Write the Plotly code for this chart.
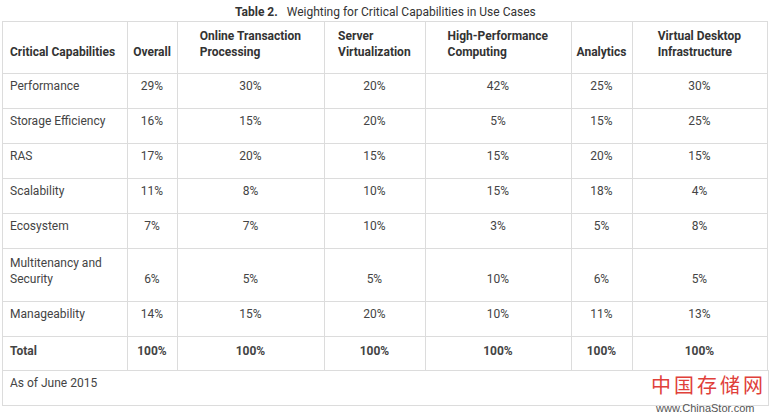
import plotly.graph_objects as go

# table data
capabilities = ["Performance", "Storage Efficiency", "RAS", "Scalability", "Ecosystem",
                "Multitenancy and<br>Security", "Manageability", "<b>Total</b>"]
use_cases = ["Overall", "Online Transaction<br>Processing", "Server<br>Virtualization",
             "High-Performance<br>Computing", "Analytics", "Virtual Desktop<br>Infrastructure"]
overall = [29, 16, 17, 11, 7, 6, 14, 100]
oltp = [30, 15, 20, 8, 7, 5, 15, 100]
server_virt = [20, 20, 15, 10, 10, 5, 20, 100]
hpc = [42, 5, 15, 15, 3, 10, 10, 100]
analytics = [25, 15, 20, 18, 5, 6, 11, 100]
vdi = [30, 25, 15, 4, 8, 5, 13, 100]
footnote = "As of June 2015"
title = "<b>Table 2.</b>   Weighting for Critical Capabilities in Use Cases"

W, H = 774, 417
col_widths = [125, 50, 147, 101, 146, 61, 135]
line_c = "#dcdcdc"
fam = "Roboto, Arial, sans-serif"
body_font = dict(family=fam, size=12, color="#444")
bold_font = dict(family=fam, size=12, color="#333")
aligns = ["left"] + ["center"] * 6


def fmt(vals):
    out = []
    for i, v in enumerate(vals):
        s = f"{v}%"
        if capabilities[i].startswith("<b>"):
            s = f"<b>{s}</b>"
        elif "<br>" in capabilities[i]:
            s = "&nbsp;<br>" + s
        out.append(s)
    return out


header = ["<b>&nbsp;<br>Critical Capabilities</b>"] + [
    f"<b>{u}</b>" if "<br>" in u else f"<b>&nbsp;<br>{u}</b>" for u in use_cases]
columns = [capabilities] + [fmt(v) for v in [overall, oltp, server_virt, hpc, analytics, vdi]]
rows = [list(r) for r in zip(*columns)]

# split at the taller multitenancy row so it gets its own height
k = 5
top_cols = [c[:k] for c in columns]
tall_row = rows[k]
rest_cols = [c[k + 1:] for c in columns]

box = dict(line=dict(color=line_c, width=1), fill=dict(color="white"))

fig = go.Figure()
fig.add_trace(go.Table(
    domain=dict(x=[2 / W, 767 / W], y=[0, 1 - 21 / H]),
    columnwidth=col_widths,
    header=dict(values=header, height=52, align=aligns, font=bold_font, **box),
    cells=dict(values=top_cols, height=35, align=aligns, font=body_font, **box),
))
fig.add_trace(go.Table(
    domain=dict(x=[2 / W, 767 / W], y=[0, 1 - 248 / H]),
    columnwidth=col_widths,
    header=dict(values=tall_row, height=53, align=aligns, font=body_font, **box),
    cells=dict(values=rest_cols, height=35, align=aligns, font=body_font, **box),
))
fig.add_trace(go.Table(
    domain=dict(x=[2 / W, 768 / W], y=[0, 1 - 370 / H]),
    header=dict(values=[footnote], height=35, align="left", font=body_font, **box),
    cells=dict(values=[[]]),
))

fig.add_annotation(text=title, x=385 / W, y=1 - 12 / H, xref="paper", yref="paper",
                   xanchor="center", yanchor="middle", showarrow=False,
                   font=dict(family=fam, size=12, color="#333"))
# watermark
fig.add_annotation(text="<span style='letter-spacing:3px'>中国存储网</span>",
                   x=708 / W, y=1 - 384 / H, xref="paper", yref="paper",
                   xanchor="center", yanchor="middle", showarrow=False,
                   font=dict(family="Noto Sans CJK SC", size=20, color="#e0403a"))
fig.add_annotation(text="www.ChinaStor.com", x=704 / W, y=1 - 407.5 / H, xref="paper", yref="paper",
                   xanchor="center", yanchor="middle", showarrow=False,
                   font=dict(family="Arial", size=11, color="#555"))

fig.update_layout(width=W, height=H, margin=dict(l=0, r=0, t=0, b=0),
                  paper_bgcolor="white", plot_bgcolor="white")
fig.write_html("out.html", config={"displayModeBar": False},
               post_script="document.body.style.margin='0';")
